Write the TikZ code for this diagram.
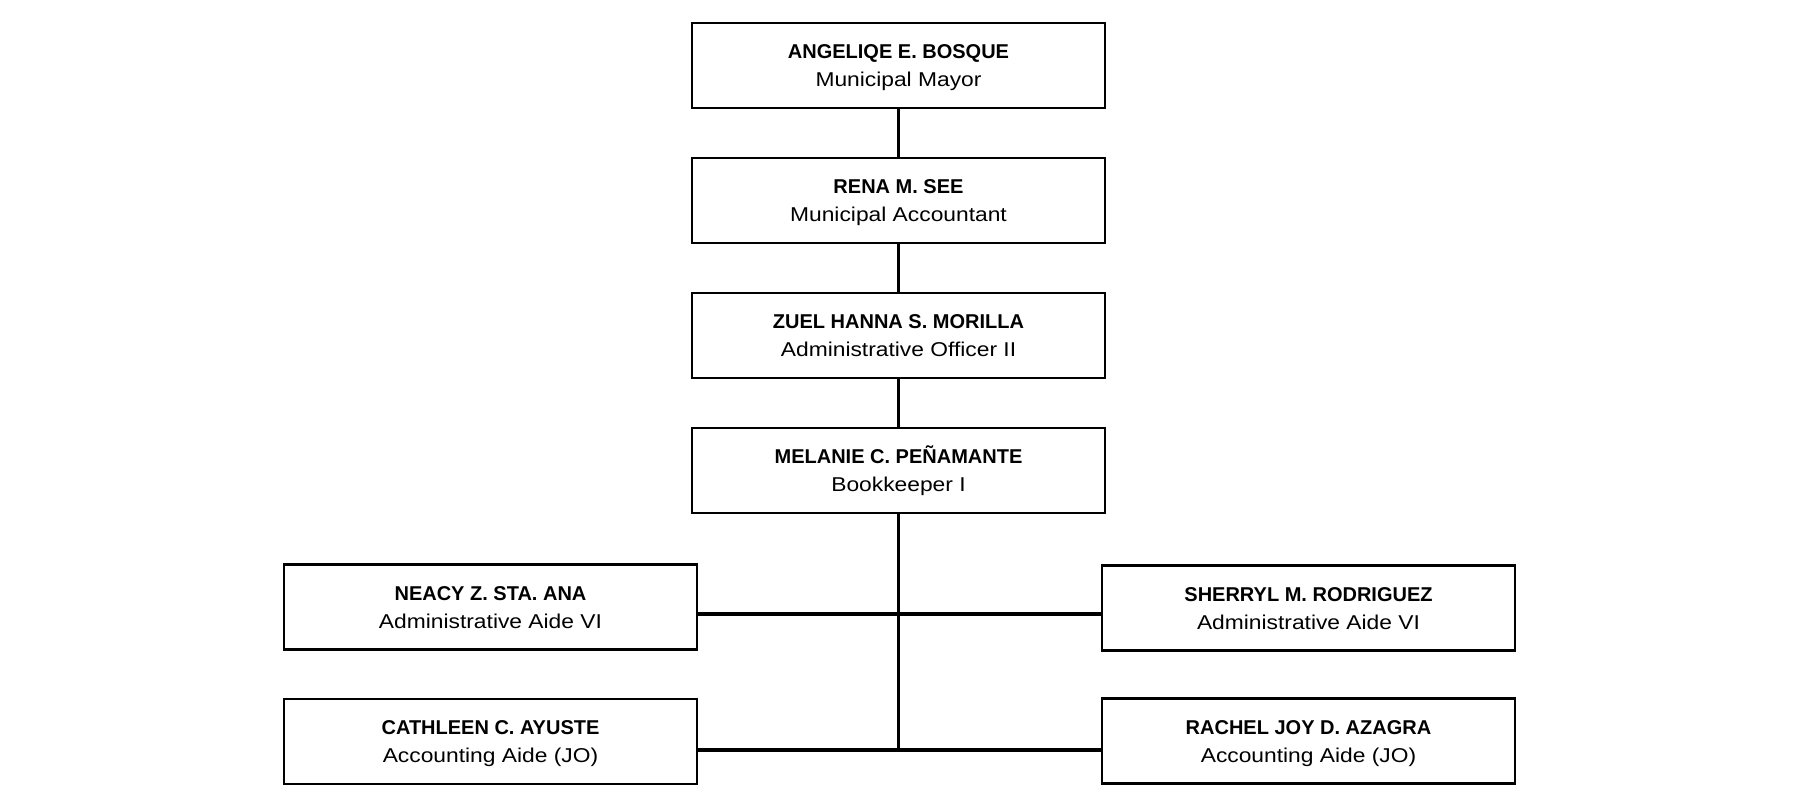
\documentclass[tikz,border=0pt]{standalone}
\usepackage{fontspec}
\setmainfont{Liberation Sans}
\newfontfamily\rolefont[FakeStretch=1.14]{Liberation Sans}
\begin{document}
\begin{tikzpicture}[x=0.5pt,y=-0.5pt,
  person/.style={draw=black,line width=1.3pt,minimum width=206.5pt,minimum height=42.5pt,
    inner sep=0pt,align=center,font=\fontsize{10}{13.8}\selectfont},
  link/.style={line width=1.6pt}]
\newcommand\pname[1]{\rule{0pt}{10pt}\textbf{#1}}
\newcommand\prole[1]{{\rolefont #1}\rule[-2.8pt]{0pt}{2.8pt}}
\useasboundingbox (0,0) rectangle (1800,805);
\node[person] (mayor) at (898.5,65.5) {\pname{ANGELIQE E. BOSQUE}\\\prole{Municipal Mayor}};
\node[person] (acct) at (898.5,200.5) {\pname{RENA M. SEE}\\\prole{Municipal Accountant}};
\node[person] (ao) at (898.5,335.5) {\pname{ZUEL HANNA S. MORILLA}\\\prole{Administrative Officer II}};
\node[person] (bk) at (898.5,470.5) {\pname{MELANIE C. PEÑAMANTE}\\\prole{Bookkeeper I}};
\node[person] (neacy) at (490.5,607) {\pname{NEACY Z. STA. ANA}\\\prole{Administrative Aide VI}};
\node[person] (sher) at (1308.5,608) {\pname{SHERRYL M. RODRIGUEZ}\\\prole{Administrative Aide VI}};
\node[person] (cath) at (490.5,741.5) {\pname{CATHLEEN C. AYUSTE}\\\prole{Accounting Aide (JO)}};
\node[person] (rach) at (1308.5,741) {\pname{RACHEL JOY D. AZAGRA}\\\prole{Accounting Aide (JO)}};
\coordinate (j1) at (898.5,614);
\coordinate (j2) at (898.5,750);
\draw[link] (mayor) -- (acct);
\draw[link] (acct) -- (ao);
\draw[link] (ao) -- (bk);
\draw[link] (bk.south) -- (j2);
\draw[link] (neacy.east |- j1) -- (sher.west |- j1);
\draw[link] (cath.east |- j2) -- (rach.west |- j2);
\end{tikzpicture}
\end{document}
